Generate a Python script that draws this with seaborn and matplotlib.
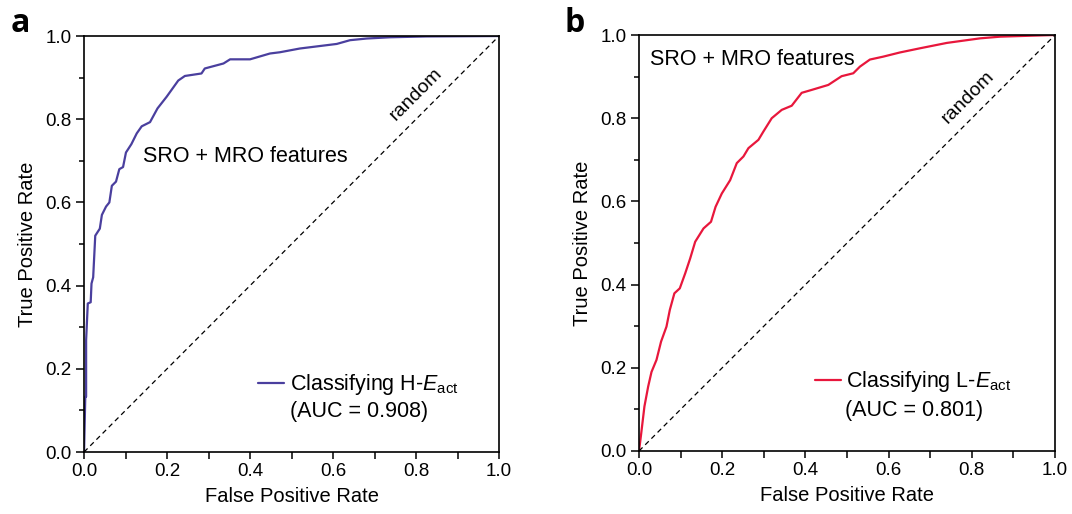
import numpy as np
import pandas as pd
import matplotlib
matplotlib.use("Agg")
import matplotlib.pyplot as plt
from matplotlib.ticker import MultipleLocator
import seaborn as sns

# ---- data ----
fpr_h = [0.0, 0.003, 0.005, 0.005, 0.009, 0.016, 0.018, 0.022, 0.027, 0.038, 0.043, 0.053,
         0.061, 0.067, 0.077, 0.085, 0.094, 0.101, 0.114, 0.127, 0.139, 0.159, 0.177,
         0.199, 0.227, 0.243, 0.283, 0.291, 0.336, 0.352, 0.40, 0.448, 0.472, 0.520,
         0.609, 0.641, 0.681, 0.737, 0.825, 1.0]
tpr_h = [0.0, 0.133, 0.133, 0.269, 0.357, 0.36, 0.405, 0.42, 0.52, 0.537, 0.57, 0.59,
         0.60, 0.64, 0.65, 0.68, 0.685, 0.72, 0.74, 0.766, 0.783, 0.793, 0.826,
         0.854, 0.893, 0.904, 0.91, 0.922, 0.934, 0.944, 0.944, 0.958, 0.961, 0.97,
         0.981, 0.99, 0.994, 0.997, 0.999, 1.0]

fpr_l = [0.0, 0.005, 0.013, 0.022, 0.030, 0.042, 0.053, 0.066, 0.074, 0.085, 0.098,
         0.111, 0.123, 0.135, 0.155, 0.173, 0.184, 0.199, 0.219, 0.235, 0.251, 0.263,
         0.287, 0.299, 0.319, 0.343, 0.367, 0.391, 0.415, 0.455, 0.487, 0.515, 0.531,
         0.555, 0.587, 0.627, 0.675, 0.740, 0.820, 0.868, 0.932, 1.0]
tpr_l = [0.0, 0.04, 0.107, 0.155, 0.19, 0.219, 0.263, 0.299, 0.339, 0.379, 0.391,
         0.427, 0.463, 0.503, 0.535, 0.551, 0.587, 0.619, 0.651, 0.692, 0.708, 0.728,
         0.748, 0.768, 0.800, 0.82, 0.83, 0.861, 0.868, 0.88, 0.901, 0.908, 0.924,
         0.941, 0.948, 0.958, 0.968, 0.981, 0.992, 0.996, 0.998, 1.0]

diag = [0.0, 1.0]
ticks = [0.0, 0.2, 0.4, 0.6, 0.8, 1.0]
panel_labels = ["a", "b"]
legend_labels = ["Classifying H-$E_\\mathrm{act}$", "Classifying L-$E_\\mathrm{act}$"]
auc_labels = ["(AUC = 0.908)", "(AUC = 0.801)"]
colors = ["#4a3f9e", "#e8173c"]

sns.set_style("ticks")
plt.rcParams["font.family"] = ["Liberation Sans", "DejaVu Sans"]
plt.rcParams["mathtext.fontset"] = "custom"
plt.rcParams["mathtext.rm"] = "Liberation Sans"
plt.rcParams["mathtext.it"] = "Liberation Sans:italic"
plt.rcParams["text.color"] = "black"
plt.rcParams["axes.labelcolor"] = "black"
plt.rcParams["xtick.color"] = "black"
plt.rcParams["ytick.color"] = "black"

fig = plt.figure(figsize=(10.72, 5.14), dpi=100)
ax1 = fig.add_axes([0.0784, 0.1206, 0.3871, 0.8093])
ax2 = fig.add_axes([0.5961, 0.1226, 0.3881, 0.8093])

datasets = [(fpr_h, tpr_h), (fpr_l, tpr_l)]
sro_pos = [(0.142, 0.71), (0.026, 0.942)]
rand_pos = [(0.80, 0.86), (0.79, 0.85)]
leg_anchor = [(0.42, 0.162), (0.423, 0.166)]
auc_pos = [(0.497, 0.098), (0.495, 0.098)]

for i, ax in enumerate([ax1, ax2]):
    fx, ty = datasets[i]
    df = pd.DataFrame({"fpr": fx, "tpr": ty})
    sns.lineplot(data=df, x="fpr", y="tpr", ax=ax, sort=False, estimator=None,
                 color=colors[i], lw=1.6, label=legend_labels[i])
    sns.lineplot(x=diag, y=diag, ax=ax, color="black", lw=0.9,
                 linestyle=(0, (4, 3)), estimator=None)
    ax.set_xlim(0, 1)
    ax.set_ylim(0, 1)
    ax.xaxis.set_minor_locator(MultipleLocator(0.1))
    ax.yaxis.set_minor_locator(MultipleLocator(0.1))
    ax.set_xticks(ticks)
    ax.set_yticks(ticks)
    ax.set_xticklabels([f"{t:.1f}" for t in ticks])
    ax.set_yticklabels([f"{t:.1f}" for t in ticks])
    ax.tick_params(which="major", direction="out", length=6, width=1.1,
                   labelsize=13.5, colors="black", pad=3)
    ax.tick_params(which="minor", direction="out", length=3.5, width=1.1)
    ax.tick_params(axis="x", which="both", length=5)
    for s in ax.spines.values():
        s.set_visible(True)
        s.set_linewidth(1.2)
        s.set_color("black")
    ax.set_xlabel("False Positive Rate", fontsize=14.5, labelpad=5)
    ax.set_ylabel("True Positive Rate", fontsize=14.5, labelpad=6)
    ax.text(sro_pos[i][0], sro_pos[i][1], "SRO + MRO features", fontsize=15.5,
            transform=ax.transAxes, ha="left", va="center")
    ax.text(rand_pos[i][0], rand_pos[i][1], "random", fontsize=14, rotation=45,
            transform=ax.transAxes, ha="center", va="center", rotation_mode="anchor")
    leg = ax.legend(loc="center left", bbox_to_anchor=leg_anchor[i], frameon=False,
                    fontsize=15.5, handlelength=1.2, handletextpad=0.25,
                    borderaxespad=0, borderpad=0)
    ax.text(auc_pos[i][0], auc_pos[i][1], auc_labels[i], fontsize=15.5,
            transform=ax.transAxes, ha="left", va="center")

fig.text(0.010, 0.955, panel_labels[0], fontsize=23, fontweight="bold",
         family=["Open Sans", "DejaVu Sans"], ha="left", va="center")
fig.text(0.527, 0.955, panel_labels[1], fontsize=23, fontweight="bold",
         family=["Open Sans", "DejaVu Sans"], ha="left", va="center")

fig.savefig("out.png", dpi=100)
